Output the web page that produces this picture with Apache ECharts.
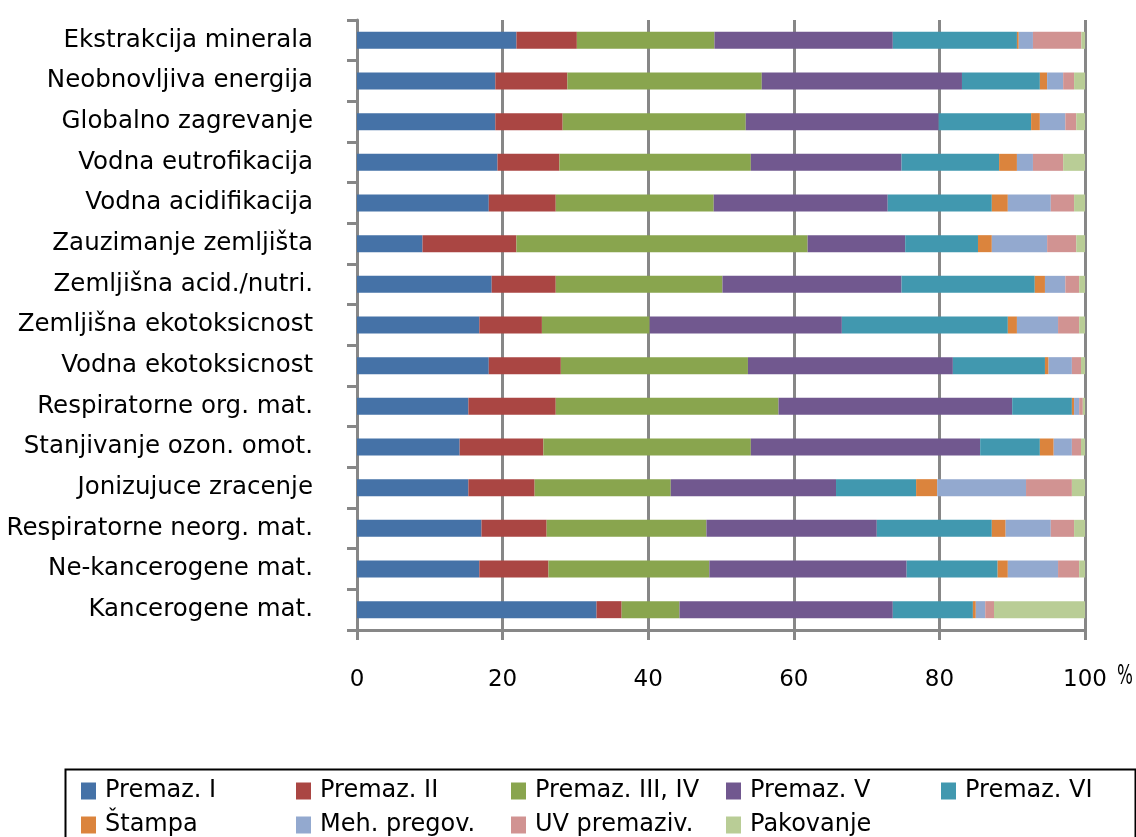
<!DOCTYPE html>
<html>
<head>
<meta charset="utf-8">
<script src="https://cdn.jsdelivr.net/npm/echarts@6/dist/echarts.min.js"></script>
<style>html,body{margin:0;padding:0;background:#fff}#c{width:1136px;height:837px}</style>
</head>
<body>
<div id="c"></div>
<script>
const categories = ["Ekstrakcija minerala","Neobnovljiva energija","Globalno zagrevanje","Vodna eutrofikacija","Vodna acidifikacija","Zauzimanje zemljišta","Zemljišna acid./nutri.","Zemljišna ekotoksicnost","Vodna ekotoksicnost","Respiratorne org. mat.","Stanjivanje ozon. omot.","Jonizujuce zracenje","Respiratorne neorg. mat.","Ne-kancerogene mat.","Kancerogene mat."];
const seriesNames = ["Premaz. I","Premaz. II","Premaz. III, IV","Premaz. V","Premaz. VI","Štampa","Meh. pregov.","UV premaziv.","Pakovanje"];
const premazI   = [21.9, 19.0, 19.0, 19.3, 18.1, 9.0, 18.5, 16.8, 18.1, 15.3, 14.1, 15.3, 17.1, 16.8, 32.9];
const premazII  = [8.3, 9.9, 9.25, 8.5, 9.2, 12.9, 8.8, 8.6, 9.9, 12.0, 11.5, 9.1, 8.95, 9.5, 3.45];
const premazIII = [18.9, 26.7, 25.15, 26.3, 21.7, 40.0, 22.9, 14.8, 25.7, 30.6, 28.5, 18.7, 21.95, 22.1, 7.95];
const premazV   = [24.5, 27.5, 26.5, 20.7, 23.9, 13.4, 24.6, 26.4, 28.15, 32.1, 31.5, 22.7, 23.4, 27.1, 29.3];
const premazVI  = [17.05, 10.7, 12.7, 13.4, 14.3, 10.0, 18.3, 22.8, 12.65, 8.2, 8.2, 11.0, 15.8, 12.5, 11.0];
const stampa    = [0.25, 1.0, 1.2, 2.45, 2.2, 1.9, 1.4, 1.25, 0.5, 0.3, 1.9, 2.9, 1.9, 1.4, 0.4];
const mehPregov = [1.95, 2.2, 3.5, 2.2, 5.9, 7.6, 2.8, 5.65, 3.2, 0.7, 2.5, 12.2, 6.2, 6.9, 1.3];
const uvPremaz  = [6.65, 1.5, 1.5, 4.15, 3.2, 4.0, 1.9, 2.9, 1.25, 0.5, 1.25, 6.3, 3.2, 2.9, 1.2];
const pakovanje = [0.5, 1.5, 1.2, 3.0, 1.5, 1.2, 0.8, 0.8, 0.55, 0.3, 0.55, 1.8, 1.5, 0.8, 12.5];
const xTicks = [0, 20, 40, 60, 80, 100];

const allValues = [premazI, premazII, premazIII, premazV, premazVI, stampa, mehPregov, uvPremaz, pakovanje];
const colors = ["#4572A7","#AA4643","#89A54E","#71588F","#4198AF","#DB843D","#93A9CF","#D19392","#B9CD96"];
const FONT = "DejaVu Sans";
const gray = "#878787";

const chart = echarts.init(document.getElementById('c'), null, {renderer: 'canvas'});
chart.setOption({
  animation: false,
  color: colors,
  grid: {left: 357, right: 51, top: 20, bottom: 207, containLabel: false},
  xAxis: {
    type: 'value', min: xTicks[0], max: xTicks[xTicks.length - 1], interval: 20,
    axisLine: {show: true, lineStyle: {color: gray, width: 3}},
    axisTick: {show: true, length: 10, lineStyle: {color: gray, width: 3}},
    splitLine: {show: true, lineStyle: {color: gray, width: 3}},
    axisLabel: {margin: 39, fontFamily: FONT, fontSize: 23, color: '#000'}
  },
  yAxis: {
    type: 'category', data: categories, inverse: true,
    axisLine: {show: true, lineStyle: {color: gray, width: 3}},
    axisTick: {show: true, length: 10, lineStyle: {color: gray, width: 3}},
    axisLabel: {margin: 44, fontFamily: FONT, fontSize: 24.5, color: '#000', padding: [0, 0, 7, 0]}
  },
  legend: {
    left: 81, top: 779, width: 1075, padding: 0,
    itemWidth: 15, itemHeight: 17, itemGap: 10,
    icon: 'rect',
    textStyle: {fontFamily: FONT, fontSize: 24, color: '#000', width: 181, lineHeight: 24, padding: [0, 0, 0, 4]},
    data: seriesNames
  },
  graphic: [
    {type: 'rect', left: 63, top: 767, shape: {width: 1070, height: 90},
     style: {fill: 'none', stroke: '#000', lineWidth: 2}, z: 0},
    {type: 'text', x: 1117, y: 663, scaleX: 0.62,
     style: {text: '%', font: '27px "DejaVu Sans"', fill: '#000', verticalAlign: 'top', align: 'left'}}
  ],
  series: seriesNames.map((name, i) => ({
    name: name, type: 'bar', stack: 'total', barWidth: 17,
    data: allValues[i], itemStyle: {color: colors[i]}
  }))
});
</script>
</body>
</html>
